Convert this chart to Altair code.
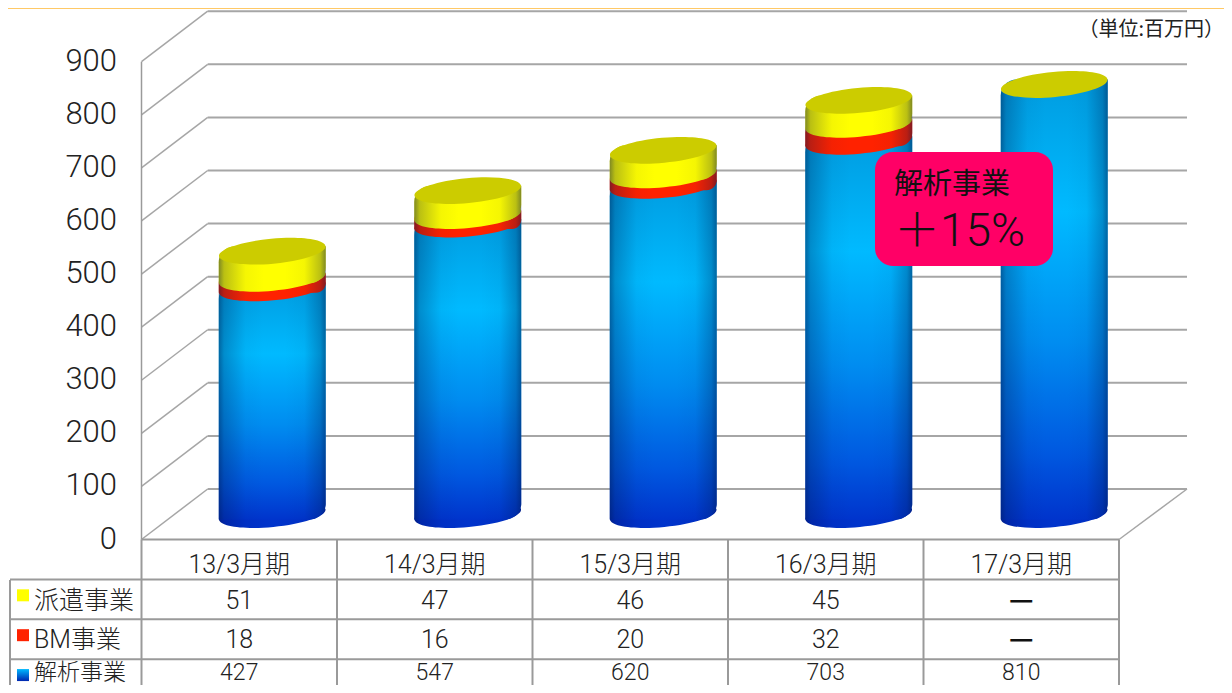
import altair as alt
import pandas as pd

categories = ["13/3月期", "14/3月期", "15/3月期", "16/3月期", "17/3月期"]
analysis = [427, 547, 620, 703, 810]
bm = [18, 16, 20, 32, None]
dispatch = [51, 47, 46, 45, None]
y_ticks = [0, 100, 200, 300, 400, 500, 600, 700, 800, 900]
rows = ["header", "派遣事業", "BM事業", "解析事業"]

FONT = "Noto Sans CJK JP"
MIX = "Roboto, 'Noto Sans CJK JP'"
W, H = 1216, 677
DEPTH_UNITS = 95.1   # back wall sits this far "up" the value scale
CYL_DY = -25
CYL_DX = 33
CYL_W = 107
GRID = "#a6a6a6"
LINE = "#9a9a9a"
INK = "#222222"
ROW_DY = {"派遣事業": 2, "BM事業": 1, "解析事業": -6}
ROW_FS = {"派遣事業": 25, "BM事業": 25, "解析事業": 23}

# ------- data tables
segs = []
for c, a, b, d in zip(categories, analysis, bm, dispatch):
    b0, d0 = b or 0, d or 0
    segs.append(dict(cat=c, s0=0, s1=a, r1=a + b0, y1=a + b0 + d0, has=b is not None))
seg_df = pd.DataFrame(segs)
tick_df = pd.DataFrame({"v": y_ticks, "label": [str(t) for t in y_ticks]})
tick_df["back"] = tick_df["v"] + DEPTH_UNITS

cells = []
for r, vals in [("派遣事業", dispatch), ("BM事業", bm), ("解析事業", analysis)]:
    for c, v in zip(categories, vals):
        cells.append(dict(cat=c, row=r, text=str(v) if v is not None else "—", dash=v is None))
cell_df = pd.DataFrame(cells)
cat_df = pd.DataFrame({"cat": categories, "row": "header"})
row_df = pd.DataFrame({"row": rows})
legend_df = pd.DataFrame({"row": rows[1:]})

# ------- scales
xs = alt.Scale(type="band", domain=categories, range=[133.5, 1111], paddingInner=0, paddingOuter=0)
ys = alt.Scale(type="linear", domain=[0, 900], range=[531.5, 53.7], zero=False, nice=False)
rs = alt.Scale(type="band", domain=rows, range=[531.5, 691], paddingInner=0, paddingOuter=0)
X = alt.X("cat:N", scale=xs, axis=None, sort=categories)
XL = alt.X("cat:N", scale=xs, axis=None, sort=categories, bandPosition=0)
def Yv(f):
    return alt.Y(f"{f}:Q", scale=ys, axis=None)
def Yr(**kw):
    return alt.Y("row:N", scale=rs, axis=None, sort=rows, **kw)

# ------- gradients
def grad(stops, horizontal=False):
    return alt.Gradient(
        gradient="linear",
        stops=[alt.GradientStop(color=c, offset=o) for o, c in stops],
        x1=0, x2=1 if horizontal else 0, y1=0, y2=0 if horizontal else 1,
    )
blue_v = grad([(0, "#009ce0"), (0.3, "#00baff"), (0.6, "#008cf0"), (0.85, "#0058e0"), (1, "#0034cc")])
blue_sw = grad([(0, "#00baff"), (1, "#0026b0")])
def sh(a):
    return f"rgba(0,20,70,{a})"
shade = grad([(0, sh(0.5)), (0.05, sh(0.27)), (0.25, sh(0.04)), (0.42, sh(0)),
              (0.62, sh(0)), (0.8, sh(0.04)), (0.95, sh(0.27)), (1, sh(0.5))], True)
base_fill = grad([(0, "#001e88"), (0.05, "#0026a8"), (0.25, "#0030c4"), (0.5, "#0034cc"),
                  (0.8, "#0030c4"), (0.95, "#0026a8"), (1, "#001e88")], True)

ELLIPSE = "M-1,0A1,0.234,0,1,1,1,0A1,0.234,0,1,1,-1,0Z"
def ellipse(fill):
    return alt.MarkDef(type="point", shape=ELLIPSE, size=CYL_W ** 2, angle=354.7, filled=True,
                       fill=fill, stroke=None, opacity=1, xOffset=CYL_DX, yOffset=CYL_DY)
def body(fill):
    return alt.MarkDef(type="bar", width=CYL_W, fill=fill, xOffset=CYL_DX, x2Offset=CYL_DX, yOffset=CYL_DY - 5,
                       y2Offset=CYL_DY + 5, cornerRadiusTopLeft=16, cornerRadiusBottomRight=16, opacity=1)

layers = []
# walls and gridlines
layers.append(alt.Chart(tick_df).mark_rule(color=GRID, strokeWidth=2).encode(
    x=alt.value(199.7), x2=alt.value(1179), y=Yv("back")))
layers.append(alt.Chart(tick_df).mark_rule(color=GRID, strokeWidth=1.5).encode(
    x=alt.value(133.5), x2=alt.value(199.7), y=Yv("v"), y2=alt.Y2("back:Q")))
layers.append(alt.Chart(tick_df[tick_df.v == 900]).mark_rule(color=LINE, strokeWidth=1.5).encode(
    x=alt.value(133.5), y=Yv("v"), y2=alt.value(531.5)))
layers.append(alt.Chart(tick_df[tick_df.v == 0]).mark_rule(color=GRID, strokeWidth=1.5).encode(
    x=alt.value(1111), x2=alt.value(1179), y=Yv("v"), y2=alt.Y2("back:Q")))
layers.append(alt.Chart(tick_df).mark_text(font="Roboto", fontWeight=300, fontSize=31, align="right", baseline="middle",
                                           color=INK).encode(
    x=alt.value(109), y=Yv("v"), text="label:N"))

# cylinders
layers.append(alt.Chart(seg_df, mark=ellipse(base_fill)).encode(x=X, y=Yv("s0")))
layers.append(alt.Chart(seg_df, mark=body(blue_v)).encode(x=X, y=Yv("s1"), y2=alt.Y2("s0:Q")))
has = seg_df[seg_df.has]
layers.append(alt.Chart(has, mark=body("#ff2200")).encode(x=X, y=Yv("r1"), y2=alt.Y2("s1:Q")))
layers.append(alt.Chart(has, mark=ellipse("#ff2200")).encode(x=X, y=Yv("s1")))
layers.append(alt.Chart(has, mark=body("#ffff00")).encode(x=X, y=Yv("y1"), y2=alt.Y2("r1:Q")))
layers.append(alt.Chart(has, mark=ellipse("#ffff00")).encode(x=X, y=Yv("r1")))
layers.append(alt.Chart(seg_df, mark=body(shade)).encode(x=X, y=Yv("y1"), y2=alt.Y2("s0:Q")))
layers.append(alt.Chart(seg_df, mark=ellipse("#cccc00")).encode(x=X, y=Yv("y1")))

# table lines
layers.append(alt.Chart(row_df[row_df.row == "header"]).mark_rule(color=LINE, strokeWidth=2).encode(
    x=alt.value(133.5), x2=alt.value(1111), y=Yr(bandPosition=0)))
layers.append(alt.Chart(row_df[row_df.row != "header"]).mark_rule(color=LINE, strokeWidth=2).encode(
    x=alt.value(2), x2=alt.value(1111), y=Yr(bandPosition=0)))
layers.append(alt.Chart(cat_df).mark_rule(color=LINE, strokeWidth=2).encode(
    x=XL, y=alt.value(531.5), y2=alt.value(H)))
layers.append(alt.Chart(cat_df.tail(1)).mark_rule(color=LINE, strokeWidth=2).encode(
    x=alt.X("cat:N", scale=xs, axis=None, sort=categories, bandPosition=1), y=alt.value(531.5), y2=alt.value(H)))
layers.append(alt.Chart(legend_df.head(1)).mark_rule(color=LINE, strokeWidth=2).encode(
    x=alt.value(2), y=alt.value(572), y2=alt.value(H)))

# table text
layers.append(alt.Chart(cat_df).mark_text(font=MIX, fontWeight=300, fontSize=25, baseline="middle", color=INK, dy=6).encode(
    x=X, y=Yr(), text="cat:N"))
for row, dy in ROW_DY.items():
    fs = ROW_FS[row]
    sub = cell_df[cell_df.row == row]
    layers.append(alt.Chart(sub[~sub.dash]).mark_text(font="Roboto", fontWeight=300, fontSize=fs, baseline="middle", color=INK, dy=dy).encode(
        x=X, y=Yr(), text="text:N"))
    if sub.dash.any():
        layers.append(alt.Chart(sub[sub.dash]).mark_text(font=FONT, fontSize=27, fontWeight="bold", baseline="middle",
                                                         color="#111111", dy=dy).encode(x=X, y=Yr(), text="text:N"))
    layers.append(alt.Chart(legend_df[legend_df.row == row]).mark_text(
        font=MIX, fontWeight=300, fontSize=fs, align="left", baseline="middle", color=INK, dy=dy).encode(
        x=alt.value(26), y=Yr(), text="row:N"))
sq = lambda fill: alt.MarkDef(type="point", shape="square", size=144, filled=True, fill=fill, stroke=None, opacity=1, yOffset=-4)
layers.append(alt.Chart(legend_df[legend_df.row == "派遣事業"], mark=sq("#ffff00")).encode(x=alt.value(15), y=Yr()))
layers.append(alt.Chart(legend_df[legend_df.row == "BM事業"], mark=sq("#ff2200")).encode(x=alt.value(15), y=Yr()))
layers.append(alt.Chart(legend_df[legend_df.row == "解析事業"], mark=sq(blue_sw)).encode(x=alt.value(15), y=Yr()))

# annotations
note = pd.DataFrame({"a": [1]})
layers.append(alt.Chart(note).mark_rect(color="#ffc966", opacity=1).encode(
    x=alt.value(0), x2=alt.value(W), y=alt.value(0), y2=alt.value(1)))
layers.append(alt.Chart(note).mark_rect(color="#ff0066", cornerRadius=18, opacity=1).encode(
    x=alt.value(867), x2=alt.value(1045), y=alt.value(144), y2=alt.value(258)))
layers.append(alt.Chart(note).mark_text(text="解析事業", font=FONT, fontSize=29, align="left", baseline="middle", color="#111111").encode(
    x=alt.value(886), y=alt.value(177)))
layers.append(alt.Chart(note).mark_text(text="＋15%", font=MIX, fontSize=46, fontWeight=300, align="left", baseline="middle", color="#111111").encode(
    x=alt.value(886), y=alt.value(224)))
layers.append(alt.Chart(note).mark_text(text="（単位:百万円）", font=FONT, fontSize=20, align="right", baseline="middle", color=INK).encode(
    x=alt.value(1216), y=alt.value(22)))

chart = alt.layer(*layers).resolve_scale(y="independent").properties(
    width=W, height=H, padding=0, autosize=alt.AutoSizeParams(type="none")
).configure_view(stroke=None)

chart.save("out.html", embed_options={"renderer": "svg", "actions": False})
